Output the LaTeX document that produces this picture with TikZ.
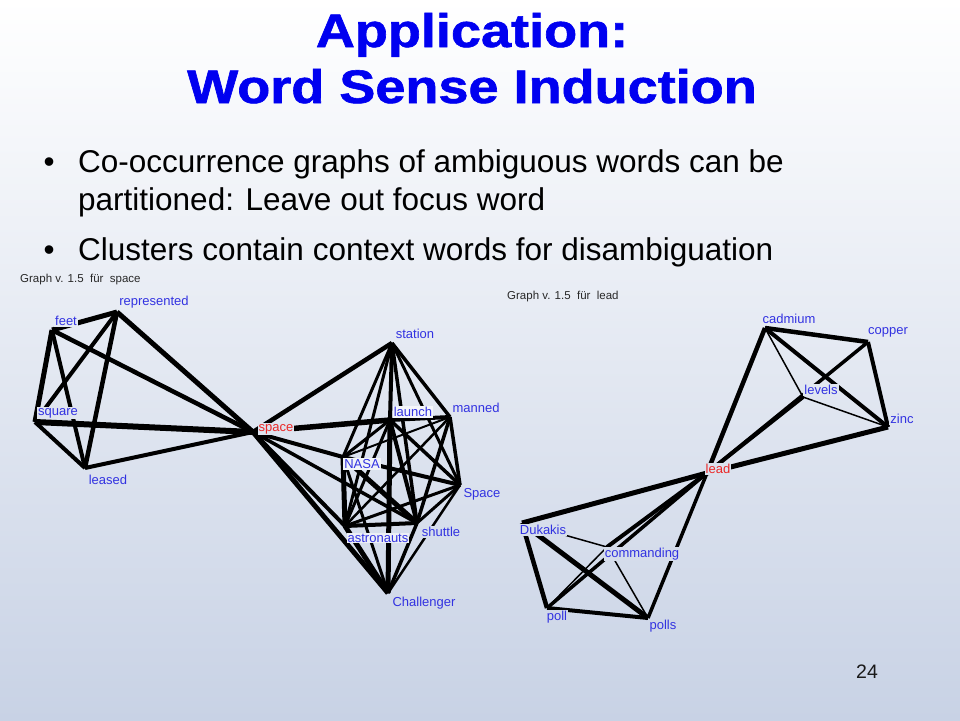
\documentclass[tikz,border=0pt]{standalone}
\usepackage{fontspec}
\setmainfont{Liberation Sans}
\newfontfamily\titlefont[BoldFeatures={FakeBold=1.2}]{Liberation Sans}
\usepackage{graphicx}
\definecolor{bgbottom}{RGB}{200,210,229}
\definecolor{titleblue}{RGB}{0,0,240}
\definecolor{nodeblue}{RGB}{50,50,225}
\definecolor{nodered}{RGB}{235,40,40}
\definecolor{captiongray}{RGB}{40,40,40}
\tikzset{
  wline/.style={line width=#1, draw=black},
  glbl/.style={font=\fontsize{13}{15}\selectfont, text=nodeblue, inner sep=1pt, fill=white!#1!bgbottom},
  rlbl/.style={glbl=#1, text=nodered},
  bul/.style={anchor=base west, inner sep=0pt, font=\fontsize{31.5}{36}\selectfont, text=black},
  ttl/.style={anchor=base, inner sep=0pt, text=titleblue, font=\fontsize{47}{50}\selectfont\titlefont\bfseries},
  gcap/.style={anchor=west, inner sep=0pt, font=\fontsize{11.5}{13}\selectfont, text=captiongray},
}
\begin{document}
\begin{tikzpicture}[x=1pt,y=-1pt]
\useasboundingbox (0,0) rectangle (960,720);
\begin{scope}[y=1pt]
  \shade[top color=white, bottom color=bgbottom] (0,0) rectangle (960,-720);
\end{scope}

% ---------- title ----------
\node[ttl] (title1) at (472,47) {\scalebox{1.15}[1]{Application:}};
\node[ttl] (title2) at (472,103) {\scalebox{1.15}[1]{Word Sense Induction}};

% ---------- bullets ----------
\node[bul] (dot1) at (43.5,172) {•};
\node[bul] (b1a) at (78,172) {Co-occurrence graphs of ambiguous words can be};
\node[bul] (b1b) at (78,210) {partitioned: Leave out focus word};
\node[bul] (dot2) at (43.5,260) {•};
\node[bul] (b2) at (78,260) {Clusters contain context words for disambiguation};

% ---------- captions ----------
\node[gcap] (cap1) at (20,280) {Graph v. 1.5\ \ für\ \ space};
\node[gcap] (cap2) at (507,297) {Graph v. 1.5\ \ für\ \ lead};

% ---------- vertex points ----------
\coordinate (feet) at (52,330);
\coordinate (repr) at (117,312);
\coordinate (square) at (35,422);
\coordinate (leased) at (85,468);
\coordinate (space) at (253,432);
\coordinate (station) at (392,343);
\coordinate (launch) at (390,420);
\coordinate (manned) at (450,417);
\coordinate (nasa) at (343,457);
\coordinate (Space) at (460,485);
\coordinate (shuttle) at (417,523);
\coordinate (astro) at (345,526);
\coordinate (chall) at (388,593);
\coordinate (cadmium) at (765,328);
\coordinate (copper) at (868,342);
\coordinate (levels) at (803,397);
\coordinate (zinc) at (888,427);
\coordinate (lead) at (707,473);
\coordinate (dukakis) at (522,523);
\coordinate (commanding) at (607,547);
\coordinate (poll) at (547,608);
\coordinate (polls) at (648,618);

% ---------- edges: space graph, left cluster ----------
\draw[wline=5pt] (feet) -- (repr);
\draw[wline=5pt] (feet) -- (square);
\draw[wline=4pt] (feet) -- (leased);
\draw[wline=4.5pt] (feet) -- (space);
\draw[wline=4pt] (repr) -- (square);
\draw[wline=4.5pt] (repr) -- (leased);
\draw[wline=5pt] (repr) -- (space);
\draw[wline=6pt] (square) -- (space);
\draw[wline=4pt] (square) -- (leased);
\draw[wline=4pt] (leased) -- (space);
% space to right cluster
\draw[wline=4.5pt] (space) -- (station);
\draw[wline=5.5pt] (space) -- (launch);
\draw[wline=4pt] (space) -- (nasa);
\draw[wline=3.5pt] (space) -- (shuttle);
\draw[wline=4pt] (space) -- (astro);
\draw[wline=5pt] (space) -- (chall);
% right cluster
\draw[wline=4pt] (station) -- (launch);
\draw[wline=3.5pt] (station) -- (manned);
\draw[wline=3pt] (station) -- (nasa);
\draw[wline=3pt] (station) -- (astro);
\draw[wline=3.5pt] (station) -- (shuttle);
\draw[wline=3pt] (station) -- (Space);
\draw[wline=4pt] (launch) -- (manned);
\draw[wline=3pt] (launch) -- (nasa);
\draw[wline=3.5pt] (launch) -- (Space);
\draw[wline=4pt] (launch) -- (shuttle);
\draw[wline=3pt] (launch) -- (astro);
\draw[wline=5pt] (launch) -- (chall);
\draw[wline=2pt] (manned) -- (nasa);
\draw[wline=3.5pt] (manned) -- (Space);
\draw[wline=3.5pt] (manned) -- (shuttle);
\draw[wline=2.5pt] (manned) -- (astro);
\draw[wline=4pt] (nasa) -- (Space);
\draw[wline=5pt] (nasa) -- (shuttle);
\draw[wline=5pt] (nasa) -- (astro);
\draw[wline=3pt] (nasa) -- (chall);
\draw[wline=3pt] (Space) -- (shuttle);
\draw[wline=3pt] (Space) -- (astro);
\draw[wline=2.5pt] (Space) -- (chall);
\draw[wline=4pt] (shuttle) -- (astro);
\draw[wline=3.5pt] (shuttle) -- (chall);
\draw[wline=5pt] (astro) -- (chall);

% ---------- edges: lead graph ----------
\draw[wline=4.5pt] (cadmium) -- (copper);
\draw[wline=1.5pt] (cadmium) -- (levels);
\draw[wline=4pt] (cadmium) -- (zinc);
\draw[wline=4.5pt] (cadmium) -- (lead);
\draw[wline=4pt] (copper) -- (zinc);
\draw[wline=3.5pt] (copper) -- (lead);
\draw[wline=1.5pt] (levels) -- (zinc);
\draw[wline=4pt] (levels) -- (lead);
\draw[wline=5pt] (zinc) -- (lead);
\draw[wline=5pt] (lead) -- (dukakis);
\draw[wline=4pt] (lead) -- (commanding);
\draw[wline=3.5pt] (lead) -- (poll);
\draw[wline=3.5pt] (lead) -- (polls);
\draw[wline=1.5pt] (dukakis) -- (commanding);
\draw[wline=4.5pt] (dukakis) -- (poll);
\draw[wline=5pt] (dukakis) -- (polls);
\draw[wline=1.5pt] (commanding) -- (poll);
\draw[wline=1.5pt] (commanding) -- (polls);
\draw[wline=4pt] (poll) -- (polls);

% ---------- labels ----------
\node[glbl=55] (l-feet) at (66,321) {feet};
\node[glbl=58] (l-repr) at (154,302) {represented};
\node[glbl=43] (l-square) at (58,413) {square};
\node[glbl=33] (l-leased) at (108,480) {leased};
\node[rlbl=40] (l-space) at (276,429) {space};
\node[glbl=54] (l-station) at (415,334) {station};
\node[glbl=80] (l-launch) at (413,412) {launch};
\node[glbl=43] (l-manned) at (476,408) {manned};
\node[glbl=75] (l-nasa) at (362,464) {NASA};
\node[glbl=31] (l-Space) at (482,494) {Space};
\node[glbl=26] (l-shuttle) at (441,532) {shuttle};
\node[glbl=65] (l-astro) at (378,538) {astronauts};
\node[glbl=16] (l-chall) at (424,603) {Challenger};
\node[glbl=56] (l-cadmium) at (789,319) {cadmium};
\node[glbl=54] (l-copper) at (888,332) {copper};
\node[glbl=46] (l-levels) at (821,390) {levels};
\node[glbl=42] (l-zinc) at (902,419) {zinc};
\node[rlbl=35] (l-lead) at (718,469) {lead};
\node[glbl=26] (l-dukakis) at (543,530) {Dukakis};
\node[glbl=23] (l-commanding) at (642,554) {commanding};
\node[glbl=14] (l-poll) at (557,617) {poll};
\node[glbl=13] (l-polls) at (663,626) {polls};

% ---------- page number ----------
\node[inner sep=0pt, font=\fontsize{19.5}{22}\selectfont, text=black!90] (pageno) at (867,672) {24};
\end{tikzpicture}
\end{document}
